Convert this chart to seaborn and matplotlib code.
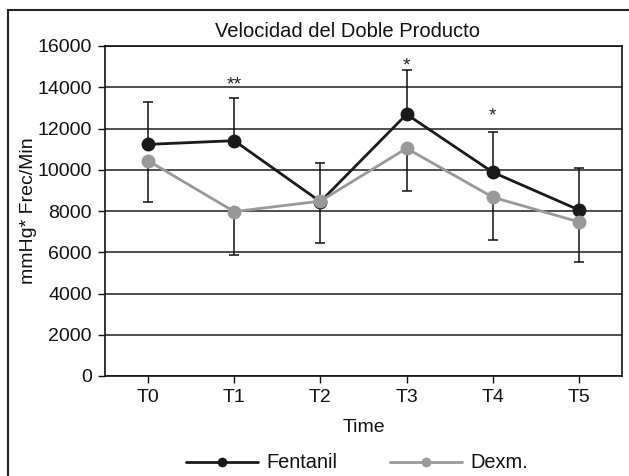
import matplotlib
matplotlib.use("Agg")
import matplotlib.pyplot as plt
import seaborn as sns
import pandas as pd
from matplotlib.patches import Rectangle
from matplotlib.lines import Line2D

# ---- data ----
times = ["T0", "T1", "T2", "T3", "T4", "T5"]
fentanil = [11230, 11410, 8450, 12690, 9880, 8050]
dexm = [10440, 7970, 8480, 11040, 8670, 7470]
fentanil_err_up = [2040, 2050, 1890, 2130, 1950, 2020]
dexm_err_down = [2020, 2090, 2050, 2085, 2060, 1950]
stars = ["", "**", "", "*", "*", ""]
star_y = [0, 13900, 0, 14830, 12410, 0]
yticks = [0, 2000, 4000, 6000, 8000, 10000, 12000, 14000, 16000]

title = "Velocidad del Doble Producto"
ylabel = "mmHg* Frec/Min"
xlabel = "Time"
series_names = ["Fentanil", "Dexm."]
colors = {"Fentanil": "#1a1a1a", "Dexm.": "#999999"}

sns.set_theme(style="white")
plt.rcParams["font.family"] = ["Liberation Sans", "DejaVu Sans"]

W, H = 629, 476
fig = plt.figure(figsize=(W / 100, H / 100), dpi=100)
ax = fig.add_axes([105 / W, 1 - 376 / H, 517 / W, 330 / H])

pos = list(range(len(times)))
df = pd.DataFrame({
    "pos": pos + pos,
    "value": fentanil + dexm,
    "group": [series_names[0]] * len(times) + [series_names[1]] * len(times),
})

# error bars (behind lines)
ax.errorbar(pos, fentanil, yerr=[[0] * len(pos), fentanil_err_up], fmt="none",
            ecolor="#111111", elinewidth=1.1, capsize=3.5, capthick=1.1, zorder=2)
ax.errorbar(pos, dexm, yerr=[dexm_err_down, [0] * len(pos)], fmt="none",
            ecolor="#111111", elinewidth=1.1, capsize=3.5, capthick=1.1, zorder=2)

sns.lineplot(data=df, x="pos", y="value", hue="group", hue_order=series_names,
             palette=colors, marker="o", markersize=10, markeredgewidth=0,
             linewidth=2, legend=False, ax=ax, zorder=3)

for i, s in enumerate(stars):
    if s:
        ax.text(pos[i], star_y[i], s, ha="center", va="baseline",
                fontsize=14, color="#222222")

ax.set_xlim(-0.5, len(times) - 0.5)
ax.set_ylim(0, 16000)
ax.set_xticks(pos)
ax.set_xticklabels(times)
ax.set_yticks(yticks)
ax.grid(axis="y", color="#404040", linewidth=1.3)
ax.grid(axis="x", visible=False)
ax.set_axisbelow(True)
for sp in ax.spines.values():
    sp.set_visible(True)
    sp.set_color("#111111")
    sp.set_linewidth(1.2)
ax.tick_params(axis="both", which="major", direction="out", length=5, width=1,
               color="#111111", labelsize=14, labelcolor="#111111",
               bottom=True, left=True, pad=4.5)

ax.set_xlabel(xlabel, fontsize=14, color="#111111")
ax.xaxis.set_label_coords(0.5, -0.13)
ax.set_ylabel(ylabel, fontsize=14, color="#111111")
ax.yaxis.set_label_coords(-0.1315, 0.5)

ax.set_title(title, x=(347.5 - 105) / 517, y=(376 - 37) / 330, pad=0,
             fontsize=14.5, color="#111111", va="baseline")

handles = [Line2D([], [], color=colors[n], lw=2, marker="o", markersize=7,
                  markeredgewidth=0) for n in series_names]
fig.legend(handles, series_names, loc="center",
           bbox_to_anchor=(357 / W, 1 - 463 / H), ncol=2, frameon=False,
           handlelength=3.6, handletextpad=0.45, columnspacing=2.6,
           fontsize=14.4, labelcolor="#111111")

# outer figure border (only left/top visible within the canvas)
fig.patches.append(Rectangle((8 / W, -0.5), 2, 1.5 - 10 / H,
                             transform=fig.transFigure, fill=False,
                             edgecolor="#222222", linewidth=1.5))

fig.savefig("out.png", dpi=100)
